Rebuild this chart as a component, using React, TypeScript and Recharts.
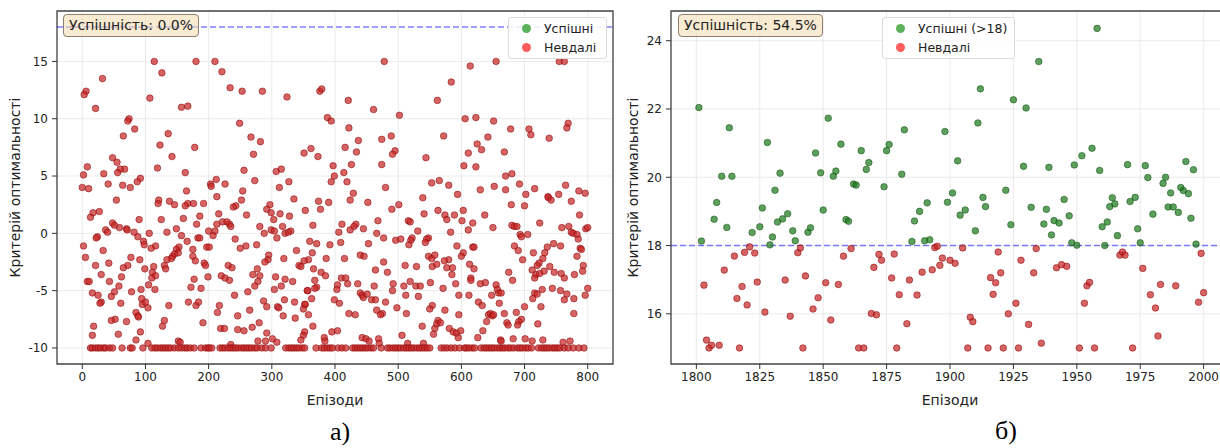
import { ScatterChart, Scatter, XAxis, YAxis, CartesianGrid, ReferenceLine, ReferenceArea, Legend, Label } from "recharts"

const FONT = "'DejaVu Sans', sans-serif"

// [episode, optimality criterion]
const failedA: [number, number][] = [
  [114,15],[180,15],[126,14.0],[32,13.5],[6,12.4],[3,12.1],[107,11.8],[21,10.9],[157,11.0],[167,11.1],[74,10.0],[72,9.8],[83,9.1],[136,8.7],[65,8.5],[123,7.7],[178,7.5],[142,6.7],[48,6.6],[55,6.2],[8,5.8],[119,5.7],[67,5.6],[60,5.6],[56,5.3],[34,5.2],[163,5.3],[2,5.1],[92,4.8],[87,4.5],[41,4.3],[64,4.2],[76,4.0],[0,4.0],[10,3.9],[165,3.7],[54,2.9],[121,2.9],[120,2.6],[138,2.8],[146,2.5],[167,2.6],[163,2.4],[176,2.6],[192,2.6],[27,1.9],[17,1.8],[13,1.4],[186,1.5],[160,1.3],[90,1.2],[125,1.2],[181,0.8],[48,0.9],[51,0.7],[59,0.5],[70,0.4],[71,0.3],[37,0.3],[40,0.1],[24,-0.3],[22,-0.4],[82,0.1],[88,-0.3],[97,-0.7],[98,-1.0],[106,0.0],[134,0.1],[149,0.4],[157,-0.2],[166,-0.7],[183,-0.4],[186,-0.4],[197,-1.2],[116,-1.1],[109,-1.3],[153,-1.2],[149,-1.4],[152,-1.7],[146,-1.8],[143,-2.0],[141,-2.2],[175,-1.4],[175,-2.0],[33,-1.5],[2,-1.1],[5,-2.1],[77,-2.1],[91,-2.3],[134,-2.3],[179,-2.4],[193,-2.6],[195,-2.8],[42,-2.6],[21,-2.8],[72,-2.8],[65,-3.0],[113,-2.9],[111,-3.4],[116,-3.7],[110,-3.9],[99,-3.1],[130,-2.8],[132,-3.1],[199,-3.8],[30,-3.6],[62,-3.8],[43,-4.2],[177,-4.0],[8,-4.2],[11,-4.2],[58,-4.6],[105,-4.5],[172,-4.7],[188,-4.8],[51,-5.1],[78,-5.1],[93,-4.9],[115,-4.9],[16,-5.2],[25,-5.4],[46,-5.5],[30,-6.0],[28,-6.1],[61,-6.1],[137,-6.3],[168,-6.0],[180,-6.3],[184,-6.0],[95,-6.2],[100,-6.0],[104,-6.5],[94,-5.7],[85,-6.9],[88,-7.2],[89,-7.3],[52,-7.5],[46,-7.6],[130,-7.6],[127,-8.1],[18,-8.1],[16,-8.9],[70,-7.7],[191,-7.8],[92,-8.6],[57,-8.8],[85,-9.3],[104,-9.6],[152,-9.4],[155,-9.5],
  [210,15],[221,14.1],[234,12.7],[253,12.4],[285,12.4],[324,11.9],[376,12.4],[379,12.6],[388,10.1],[394,9.8],[249,9.6],[267,8.4],[282,8.0],[271,6.9],[351,7.0],[362,7.4],[373,6.7],[397,5.9],[256,5.5],[307,5.4],[315,5.6],[399,5.0],[394,4.5],[212,4.7],[203,4.3],[204,4.1],[226,4.3],[273,4.6],[327,4.5],[312,4.0],[254,3.7],[213,3.2],[335,3.0],[252,2.9],[243,2.4],[239,2.3],[374,2.8],[377,2.1],[390,2.7],[297,2.5],[292,2.1],[299,1.8],[353,2.0],[313,1.7],[260,1.6],[216,1.7],[328,1.5],[303,1.2],[222,1.0],[229,1.0],[233,0.8],[213,0.8],[281,0.6],[235,0.6],[317,0.6],[365,0.7],[200,0.2],[210,0.2],[207,-0.2],[299,0.3],[304,0.2],[288,0.0],[330,0.2],[321,0.0],[326,0.1],[308,-0.4],[242,-0.5],[360,-0.7],[371,-0.9],[392,-1.0],[276,-1.0],[259,-1.1],[250,-1.3],[201,-1.2],[339,-1.5],[295,-1.9],[294,-2.3],[289,-2.5],[364,-1.7],[358,-2.3],[351,-2.4],[319,-2.2],[386,-2.2],[231,-2.8],[237,-3.0],[343,-2.8],[346,-2.9],[277,-3.1],[270,-3.6],[281,-3.7],[366,-3.1],[378,-3.4],[385,-3.7],[220,-3.7],[226,-3.9],[233,-4.1],[306,-3.8],[321,-4.0],[315,-4.6],[333,-4.2],[368,-4.1],[371,-4.7],[368,-4.8],[278,-4.2],[273,-4.6],[356,-5.0],[357,-5.0],[262,-5.1],[304,-4.9],[241,-5.4],[363,-5.7],[320,-5.8],[336,-6.0],[352,-6.2],[353,-6.2],[287,-5.9],[292,-6.4],[217,-6.3],[214,-6.9],[399,-5.8],[309,-6.4],[311,-6.5],[265,-6.7],[350,-6.6],[358,-7.1],[318,-7.2],[337,-7.4],[246,-7.2],[280,-7.8],[269,-8.2],[246,-8.4],[256,-8.5],[219,-8.3],[225,-8.3],[365,-8.1],[395,-8.6],[404,-8.5],[292,-8.7],[352,-8.6],[350,-8.9],[346,-9.3],[301,-9.2],[308,-9.5],[290,-9.4],[278,-9.4],[383,-9.1],[384,-9.4],[235,-9.7],
  [478,15],[584,13.2],[562,11.6],[421,11.6],[461,10.8],[502,10.3],[422,9.2],[489,8.5],[474,8.2],[572,8.5],[437,8.1],[416,7.5],[434,7.1],[426,6.0],[495,7.2],[491,6.9],[474,6.0],[544,6.6],[414,5.3],[419,4.5],[565,4.6],[553,4.4],[580,4.2],[480,4.0],[429,3.5],[424,2.9],[594,3.4],[539,3.1],[452,2.7],[501,2.5],[490,2.1],[563,2.0],[541,1.7],[574,1.6],[577,1.2],[589,1.6],[516,1.1],[519,1.0],[468,1.1],[433,0.8],[430,0.6],[424,0.3],[411,0.8],[445,0.4],[406,0.1],[466,0.0],[583,0.1],[531,0.2],[477,-0.4],[522,-0.4],[520,-0.6],[517,-1.0],[548,-0.4],[545,-0.5],[543,-0.8],[496,-0.6],[504,-0.5],[409,-0.8],[453,-0.9],[593,-1.1],[440,-1.9],[446,-2.0],[415,-2.2],[548,-2.0],[553,-2.2],[558,-1.9],[554,-2.9],[561,-2.7],[580,-2.3],[573,-2.4],[477,-2.5],[511,-2.8],[529,-2.9],[577,-3.0],[586,-3.0],[464,-3.2],[483,-3.4],[585,-3.6],[410,-3.9],[417,-3.9],[420,-4.4],[404,-4.5],[403,-4.9],[436,-4.4],[492,-4.4],[509,-4.6],[519,-4.2],[528,-4.6],[535,-4.6],[551,-4.3],[462,-4.6],[571,-4.8],[591,-4.4],[491,-5.0],[440,-5.2],[443,-5.4],[445,-5.6],[451,-5.3],[458,-5.8],[464,-5.8],[512,-5.4],[532,-5.5],[407,-6.1],[480,-6.0],[596,-5.4],[554,-6.3],[550,-6.6],[498,-6.5],[466,-6.7],[475,-7.0],[472,-7.1],[422,-7.0],[432,-7.1],[513,-7.0],[574,-6.7],[596,-7.1],[563,-7.6],[561,-7.9],[558,-8.3],[567,-7.8],[538,-8.1],[581,-8.3],[587,-8.6],[592,-8.7],[595,-9.1],[599,-8.5],[506,-8.9],[556,-8.8],[443,-9.1],[449,-9.2],[454,-9.4],[469,-9.2],[470,-9.6],[515,-9.6],[540,-9.6],
  [614,14.6],[655,15],[755,15],[763,15],[606,10.0],[623,10.1],[651,9.8],[678,9.1],[707,9.1],[710,8.6],[769,9.6],[767,9.2],[739,8.3],[642,8.4],[625,7.8],[632,7.3],[611,7.0],[668,7.1],[604,5.9],[623,5.8],[670,5.0],[680,5.2],[692,4.3],[630,3.8],[652,4.1],[670,3.8],[716,3.9],[702,3.4],[737,3.2],[738,3.1],[742,2.9],[754,3.4],[765,4.2],[786,3.7],[796,3.5],[774,2.8],[679,2.5],[700,2.4],[603,2.0],[637,1.6],[601,1.1],[618,0.9],[787,1.6],[724,0.9],[650,0.5],[680,0.7],[684,0.6],[688,0.6],[759,0.5],[770,0.6],[611,0.3],[774,0.1],[777,0.0],[783,-0.1],[797,0.4],[800,0.5],[693,-0.1],[695,-0.3],[705,-0.1],[785,-0.5],[746,-0.9],[736,-1.2],[757,-1.1],[684,-1.1],[690,-1.5],[788,-1.3],[790,-1.4],[618,-1.2],[620,-1.2],[603,-1.7],[600,-2.0],[714,-1.7],[732,-1.7],[729,-2.2],[723,-2.6],[697,-2.3],[783,-2.0],[793,-2.8],[613,-2.7],[620,-3.1],[720,-2.8],[740,-2.9],[712,-3.2],[718,-3.6],[716,-3.9],[724,-3.5],[731,-3.3],[747,-3.4],[758,-3.5],[763,-3.9],[779,-3.6],[792,-3.3],[675,-3.4],[681,-4.1],[615,-3.9],[615,-4.1],[630,-4.4],[638,-4.3],[655,-4.5],[657,-4.9],[659,-5.2],[663,-5.2],[744,-4.8],[728,-4.9],[716,-5.2],[713,-5.7],[720,-5.3],[757,-5.0],[767,-5.3],[763,-5.8],[778,-5.7],[796,-5.4],[800,-4.8],[648,-5.4],[612,-5.4],[627,-6.0],[633,-6.3],[660,-6.1],[726,-6.4],[700,-6.4],[668,-7.0],[643,-7.1],[646,-7.0],[649,-7.2],[651,-7.1],[640,-7.7],[687,-6.9],[695,-7.5],[691,-7.7],[689,-8.0],[672,-7.8],[674,-8.0],[778,-7.0],[721,-7.9],[634,-8.5],[626,-9.1],[662,-9.3],[663,-9.4],[682,-9.2],[701,-9.2],[712,-9.4],[729,-9.3],[761,-9.5],[772,-9.4],
]

// episodes that ended on the -10 floor
const floorA: [number, number][] = [
  [13,-10],[16,-10],[21,-10],[25,-10],[29,-10],[34,-10],[37,-10],[43,-10],[48,-10],[63,-10],[76,-10],[79,-10],[96,-10],[110,-10],[115,-10],[119,-10],[124,-10],[128,-10],[132,-10],[136,-10],[140,-10],[146,-10],[152,-10],[157,-10],[162,-10],[166,-10],[171,-10],[177,-10],[188,-10],[195,-10],[199,-10],
  [201,-10],[205,-10],[218,-10],[222,-10],[226,-10],[231,-10],[235,-10],[239,-10],[243,-10],[247,-10],[252,-10],[256,-10],[260,-10],[264,-10],[268,-10],[273,-10],[277,-10],[284,-10],[290,-10],[299,-10],[322,-10],[327,-10],[331,-10],[335,-10],[339,-10],[343,-10],[348,-10],[352,-10],[370,-10],[379,-10],[383,-10],[388,-10],[392,-10],[396,-10],
  [405,-10],[411,-10],[417,-10],[428,-10],[432,-10],[436,-10],[440,-10],[444,-10],[448,-10],[452,-10],[457,-10],[461,-10],[473,-10],[483,-10],[487,-10],[492,-10],[496,-10],[500,-10],[504,-10],[509,-10],[513,-10],[517,-10],[521,-10],[525,-10],[530,-10],[534,-10],[538,-10],[542,-10],[546,-10],[550,-10],[568,-10],[573,-10],[578,-10],[584,-10],[590,-10],[597,-10],
  [605,-10],[608,-10],[612,-10],[617,-10],[621,-10],[631,-10],[636,-10],[640,-10],[644,-10],[648,-10],[652,-10],[657,-10],[661,-10],[665,-10],[669,-10],[674,-10],[678,-10],[683,-10],[689,-10],[693,-10],[697,-10],[702,-10],[706,-10],[711,-10],[722,-10],[727,-10],[731,-10],[735,-10],[739,-10],[744,-10],[748,-10],[752,-10],[756,-10],[763,-10],[769,-10],[777,-10],[786,-10],[794,-10],
]

const successB: [number, number][] = [
  [1801,22.04],[1802,18.13],[1813,21.45],[1810,20.03],[1814,20.03],[1808,19.26],[1807,18.77],[1812,18.53],[1828,21.02],[1833,20.12],[1831,19.62],[1826,19.10],[1825,18.55],[1822,18.38],[1830,18.25],[1829,18.02],[1834,18.78],[1832,18.69],[1836,18.93],[1838,18.43],[1839,18.14],[1844,18.39],[1845,18.52],[1847,20.71],[1852,21.73],[1849,20.13],[1854,20.03],[1855,20.18],[1850,19.04],[1857,20.97],[1862,19.80],[1863,19.77],[1859,18.76],[1860,18.71],[1865,20.78],[1868,20.43],[1867,20.23],[1875,20.78],[1876,20.96],[1874,19.72],[1881,20.09],[1882,21.39],[1885,18.12],[1886,18.72],[1888,19.00],[1891,19.25],[1890,18.14],[1892,18.17],
  [1898,21.34],[1899,19.27],[1901,19.54],[1903,20.48],[1904,18.89],[1906,19.04],[1910,18.43],[1911,21.59],[1912,22.59],[1913,19.41],[1914,19.14],[1922,19.62],[1924,18.61],[1925,22.27],[1929,20.32],[1930,22.03],[1932,19.12],[1935,23.39],[1937,18.63],[1938,19.06],[1940,18.31],[1939,20.29],[1941,18.73],[1943,18.66],[1945,19.35],[1947,18.87],[1948,18.08],[1950,18.01],[1949,20.36],[1952,20.63],[1956,20.85],[1958,24.36],[1959,20.20],[1960,18.55],[1962,18.69],[1961,18.0],[1963,19.14],[1964,19.40],[1965,19.22],[1966,18.29],[1970,20.37],[1971,19.29],[1973,19.41],[1974,18.49],[1975,18.08],[1977,20.34],[1978,19.99],[1980,18.92],[1984,19.82],[1985,20.0],[1987,19.54],[1986,19.13],[1988,19.13],[1990,18.97],[1991,19.70],[1992,19.61],[1994,19.52],[1993,20.46],[1995,18.80],[1996,20.22],[1997,18.04],
]

const failedB: [number, number][] = [
  [1803,16.84],[1804,15.23],[1805,15.0],[1806,15.08],[1809,15.08],[1811,17.28],[1815,17.69],[1816,16.45],[1818,16.80],[1820,16.26],[1819,17.8],[1821,17.96],[1823,17.78],[1817,15.0],[1824,16.93],[1827,16.05],[1835,16.99],[1837,15.93],[1840,17.79],[1841,17.93],[1842,15.0],[1843,17.11],[1846,16.14],[1848,16.47],[1851,16.91],[1853,15.82],[1856,16.86],[1858,17.69],[1861,17.91],[1864,15.0],[1866,15.0],[1869,16.01],[1871,15.97],[1870,17.36],[1872,17.74],[1873,17.57],[1877,17.05],[1878,17.75],[1879,15.0],[1880,16.56],[1883,15.71],[1884,16.99],[1887,16.55],[1889,17.22],[1893,17.29],[1896,17.42],[1897,17.63],[1900,17.57],[1894,17.94],[1895,17.98],
  [1902,17.48],[1905,17.93],[1908,15.90],[1909,15.77],[1907,15.0],[1915,15.0],[1916,17.06],[1918,16.91],[1917,16.57],[1920,17.20],[1919,17.81],[1921,15.0],[1923,16.0],[1926,16.31],[1927,15.0],[1928,17.57],[1931,15.69],[1933,17.20],[1934,17.91],[1936,15.14],[1942,17.35],[1944,17.44],[1946,17.39],[1951,15.0],[1953,16.31],[1954,16.82],[1955,16.92],[1957,15.0],[1967,17.72],[1968,17.81],[1969,17.72],[1972,15.0],[1976,17.33],[1979,16.56],[1981,16.17],[1982,15.35],[1983,16.86],[1989,16.82],[1998,16.34],[1999,17.77],[2000,16.62],
]

const THRESHOLD = 18
const ticksAX = [0, 100, 200, 300, 400, 500, 600, 700, 800]
const ticksAY = [-10, -5, 0, 5, 10, 15]
const ticksBX = [1800, 1825, 1850, 1875, 1900, 1925, 1950, 1975, 2000]
const ticksBY = [16, 18, 20, 22, 24]

const RED = { fill: "#c62828", edge: "#8b0000", legend: "#ff5c5c" }
const GREEN = { fill: "#1f7a1f", edge: "#0b4d0b", legend: "#5cb35c" }

const toRows = (pts: [number, number][]) => pts.map(([x, y]) => ({ x, y }))

const dot = (fill: string, edge: string) => (p: any) => (
  <circle cx={p.cx} cy={p.cy} r={3.3} fill={fill} fillOpacity={0.72} stroke={edge} strokeOpacity={0.65} strokeWidth={0.8} />
)

const YTitle = (props: any) => {
  const vb = props.viewBox || { x: 0, y: 0, width: 0, height: 0 }
  const cx = vb.x + props.dx
  const cy = vb.y + vb.height / 2
  return (
    <text x={cx} y={cy} transform={`rotate(-90 ${cx} ${cy})`} textAnchor="middle" dominantBaseline="central"
      style={{ fontFamily: FONT, fontSize: 14, fill: "#222" }}>
      {props.value}
    </text>
  )
}

type Item = { label: string; color: string }

const LegendBox = ({ items, width }: { items: Item[]; width: number }) => (
  <div style={{ width, boxSizing: "border-box", background: "rgba(255,255,255,0.85)", border: "1px solid #dcdcdc", borderRadius: 3, padding: "1px 4px 1px 13px", fontFamily: FONT, fontSize: 12.5, color: "#222" }}>
    {items.map((it) => (
      <div key={it.label} style={{ display: "flex", alignItems: "center", height: 19 }}>
        <span style={{ width: 9, height: 9, borderRadius: "50%", background: it.color, marginRight: 13, flex: "none" }} />
        {it.label}
      </div>
    ))}
  </div>
)

type PanelProps = {
  left: number
  width: number
  plotLeft: number
  marginRight: number
  xDomain: [number, number]
  yDomain: [number, number]
  xTicks: number[]
  yTicks: number[]
  good: [number, number][]
  bad: [number, number][]
  rate: string
  goodLabel: string
  legendLeft: number
  legendWidth: number
  rateLeft: number
  titleDx: number
}

function Panel(p: PanelProps) {
  return (
    <div style={{ position: "absolute", left: p.left, top: 0 }}>
      <ScatterChart width={p.width} height={448} margin={{ top: 11, right: p.marginRight, bottom: 43, left: 0 }}>
        <CartesianGrid stroke="#e6e6e6" strokeWidth={0.8} />
        <XAxis type="number" dataKey="x" domain={p.xDomain} ticks={p.xTicks} allowDataOverflow height={41}
          axisLine={false} tickSize={5} tickMargin={3} tickLine={{ stroke: "#333" }}
          tick={{ fontSize: 12, fill: "#222", fontFamily: FONT }}>
          <Label value="Епізоди" position="insideBottom" offset={0} style={{ fontFamily: FONT, fontSize: 14, fill: "#222" }} />
        </XAxis>
        <YAxis type="number" dataKey="y" domain={p.yDomain} ticks={p.yTicks} allowDataOverflow width={p.plotLeft}
          axisLine={false} tickSize={5} tickMargin={4} tickLine={{ stroke: "#333" }}
          tick={{ fontSize: 12, fill: "#222", fontFamily: FONT }}>
          <Label value="Критерій оптимальності" content={(lp: any) => <YTitle {...lp} value="Критерій оптимальності" dx={p.titleDx} />} />
        </YAxis>
        <ReferenceLine y={THRESHOLD} stroke="#0000ff" strokeOpacity={0.5} strokeWidth={1.5} strokeDasharray="6 3" />
        <Scatter name={p.goodLabel} data={toRows(p.good)} shape={dot(GREEN.fill, GREEN.edge)} isAnimationActive={false} />
        <Scatter name="Невдалі" data={toRows(p.bad)} shape={dot(RED.fill, RED.edge)} isAnimationActive={false} />
        <ReferenceArea x1={p.xDomain[0]} x2={p.xDomain[1]} y1={p.yDomain[0]} y2={p.yDomain[1]} fill="none" stroke="#444" strokeWidth={1.3} ifOverflow="visible" />
        <Legend layout="vertical" align="center" verticalAlign="middle"
          wrapperStyle={{ top: 17, left: p.legendLeft, width: p.legendWidth, height: "auto" }}
          content={() => <LegendBox width={p.legendWidth} items={[{ label: p.goodLabel, color: GREEN.legend }, { label: "Невдалі", color: RED.legend }]} />} />
      </ScatterChart>
      <div style={{ position: "absolute", left: p.rateLeft, top: 14, height: 23, boxSizing: "border-box", padding: "2px 5px 0 5px", background: "rgba(245,222,179,0.6)", border: "1px solid #8c8070", borderRadius: 4, fontFamily: FONT, fontSize: 14, color: "#222", whiteSpace: "nowrap" }}>
        {p.rate}
      </div>
    </div>
  )
}

export default function App() {
  return (
    <div style={{ position: "absolute", left: 0, top: 0, width: 1220, height: 448, overflow: "hidden", background: "#fff" }}>
      <Panel left={0} width={620} plotLeft={57} marginRight={7} xDomain={[-40, 840]} yDomain={[-11.4, 19.4]}
        xTicks={ticksAX} yTicks={ticksAY} good={[]} bad={[...failedA, ...floorA]} rate="Успішність: 0.0%"
        goodLabel="Успішні" legendLeft={508} legendWidth={99} rateLeft={63} titleDx={15} />
      <Panel left={620} width={620} plotLeft={51} marginRight={11} xDomain={[1790, 2010]} yDomain={[14.53, 24.87]}
        xTicks={ticksBX} yTicks={ticksBY} good={successB} bad={failedB} rate="Успішність: 54.5%"
        goodLabel="Успішні (>18)" legendLeft={262} legendWidth={133} rateLeft={58} titleDx={13} />
      <div style={{ position: "absolute", left: 340, top: 432, transform: "translate(-50%, -50%)", fontFamily: "'Liberation Serif', serif", fontSize: 26, color: "#000" }}>а)</div>
      <div style={{ position: "absolute", left: 1006, top: 431, transform: "translate(-50%, -50%)", fontFamily: "'Liberation Serif', serif", fontSize: 26, color: "#000" }}>б)</div>
    </div>
  )
}
